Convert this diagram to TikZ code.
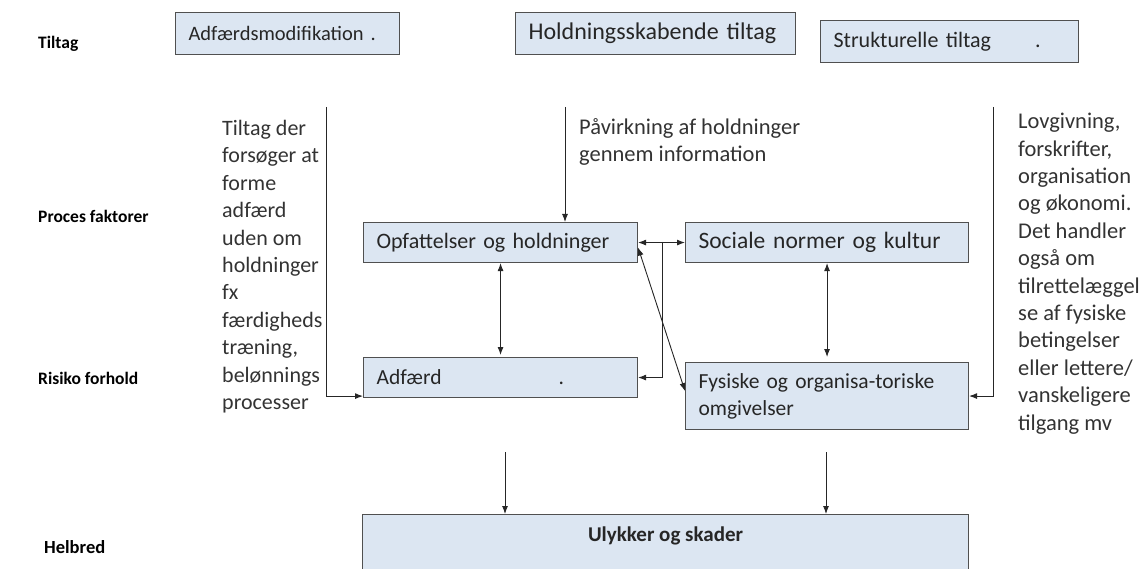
\documentclass[tikz,border=0pt]{standalone}
\usepackage{fontspec}
\setmainfont{Carlito}
\usetikzlibrary{arrows.meta}
\definecolor{boxfill}{HTML}{DCE6F2}
\definecolor{boxedge}{HTML}{505050}
\definecolor{linecol}{HTML}{262626}
\definecolor{boxtext}{HTML}{262626}
\definecolor{notetext}{HTML}{333333}
\newcommand{\fsz}[1]{\fontsize{#1}{27}\selectfont}
\begin{document}
\begin{tikzpicture}[x=1pt,y=-1pt,
  box/.style={draw=boxedge, fill=boxfill, line width=1.1pt, anchor=north west,
    inner xsep=13pt, inner ysep=0pt, align=left, text=boxtext,
    font=\fsz{22}},
  lvl/.style={anchor=base west, inner sep=0pt, text=black,
    font=\bfseries\fontsize{17.5}{21}\selectfont},
  note/.style={anchor=north west, inner sep=0pt, align=left, text=notetext,
    font=\fontsize{22}{27.4}\selectfont},
  tip/.tip={Latex[length=8pt,width=6pt]},
  arr/.style={draw=linecol, line width=0.9pt, -tip},
  darr/.style={draw=linecol, line width=0.9pt, tip-tip}]

\useasboundingbox (0,0) rectangle (1142,569);

% level labels
\node[lvl] (lTiltag) at (38,49) {Tiltag};
\node[lvl] (lProces) at (38,223) {Proces faktorer};
\node[lvl] (lRisiko) at (38,384) {Risiko forhold};
\node[lvl, font=\bfseries\fontsize{18.5}{22}\selectfont] (lHelbred) at (44,553) {Helbred};

% intervention boxes
\node[box, font=\fsz{20.5}, minimum width=224, text width=198, minimum height=42] (adfmod) at (175,12)
  {Adfærdsmodifikation\hspace{7pt}.};
\node[box, font=\fsz{24}, minimum width=280, text width=254, minimum height=42] (holdn) at (515,12)
  {Holdningsskabende tiltag};
\node[box, minimum width=258, text width=232, minimum height=42] (strukt) at (820,20)
  {Strukturelle tiltag\hspace{44pt}.};

% process and risk boxes
\node[box, minimum width=274, text width=248, minimum height=40] (opf) at (363,222)
  {Opfattelser og holdninger};
\node[box, font=\fsz{23.5}, minimum width=283, text width=257, minimum height=40] (soc) at (685,222)
  {Sociale normer og kultur};
\node[box, font=\fsz{21.5}, minimum width=274, text width=248, minimum height=40] (adf) at (363,357)
  {Adfærd\hspace{117pt}.};
\node[box, font=\fsz{21.5}, minimum width=283, text width=257, minimum height=67] (fys) at (685,362)
  {Fysiske og organisa-toriske\\omgivelser};

% outcome box (runs off the lower edge)
\node[box, minimum width=606, text width=580, minimum height=80] (uly) at (362,514) {};
\node[anchor=center, inner sep=0pt, text=boxtext, font=\bfseries\fontsize{21}{25}\selectfont]
  (ulytxt) at ([yshift=-22pt]uly.north) {Ulykker og skader};

% explanatory notes
\node[note] (noteL) at (222,120)
  {Tiltag der\\forsøger at\\forme\\adfærd\\uden om\\holdninger\\fx\\færdigheds\\træning,\\belønnings\\processer};
\node[note, font=\fontsize{22.5}{27.4}\selectfont] (noteM) at (579,118)
  {Påvirkning af holdninger\\gennem information};
\node[note, font=\fontsize{22.5}{27.4}\selectfont] (noteR) at (1018,113)
  {Lovgivning,\\forskrifter,\\organisation\\og økonomi.\\Det handler\\også om\\tilrettelæggel\\se af fysiske\\betingelser\\eller lettere/\\vanskeligere\\tilgang mv};

% free ends of the connectors
\coordinate (srcL) at (326,107);
\coordinate (srcM) at (565,107);
\coordinate (srcR) at (993,107);
\coordinate (junc) at (662,242);
\coordinate (outL) at (505,452);
\coordinate (outR) at (826,452);

% connectors
\draw[arr] (srcL) |- ([yshift=2pt]adf.south west);
\draw[arr] (srcM) -- (srcM |- opf.north);
\draw[arr] (srcR) |- (fys.east);
\draw[darr] (opf.east) -- (soc.west);
\draw[arr] (junc) |- (adf.east);
\draw[darr] ([yshift=-5pt]opf.east) -- ([yshift=5pt]fys.west);
\draw[darr] (opf.south) -- ([yshift=2pt]adf.north);
\draw[darr] (soc.south) -- ([yshift=5pt]fys.north);
\draw[arr] (outL) -- (outL |- uly.north);
\draw[arr] (outR) -- (outR |- uly.north);
\end{tikzpicture}
\end{document}
